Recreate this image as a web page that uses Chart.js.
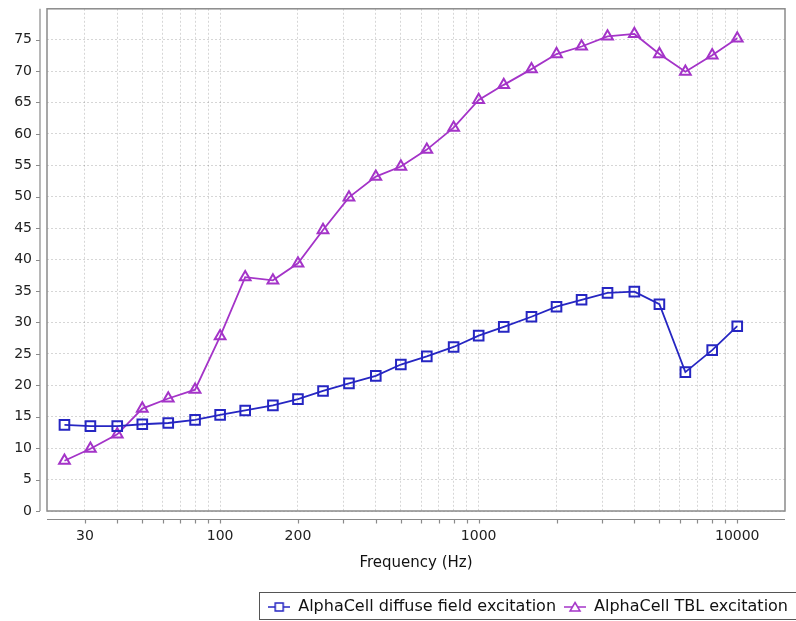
<!DOCTYPE html>
<html lang="en">
<head>
  <meta charset="UTF-8" />
  <title>AlphaCell excitation</title>
  <script src="https://cdn.jsdelivr.net/npm/chart.js"></script>
  <style>
    html, body { margin: 0; padding: 0; background: #fff; }
    #wrap { width: 796px; height: 621px; }
  </style>
</head>
<body>
  <div id="wrap"><canvas id="alphaChart" width="796" height="621"></canvas></div>

  <script>
    // 1/3 octave band centre frequencies (Hz)
    const frequencies = [25, 31.5, 40, 50, 63, 80, 100, 125, 160, 200, 250, 315, 400, 500,
      630, 800, 1000, 1250, 1600, 2000, 2500, 3150, 4000, 5000, 6300, 8000, 10000];

    const diffuseField = [13.7, 13.5, 13.5, 13.8, 14.0, 14.5, 15.3, 16.0, 16.8, 17.8, 19.1, 20.3, 21.5, 23.3,
      24.6, 26.1, 27.9, 29.3, 30.9, 32.5, 33.6, 34.7, 34.9, 32.9, 22.1, 25.6, 29.4];

    const tblExcitation = [8.0, 9.9, 12.2, 16.3, 17.9, 19.3, 27.8, 37.2, 36.7, 39.4, 44.7, 49.9, 53.2, 54.8,
      57.5, 61.0, 65.4, 67.8, 70.3, 72.7, 73.9, 75.5, 75.9, 72.7, 69.9, 72.5, 75.2];

    const seriesNames = ['AlphaCell diffuse field excitation', 'AlphaCell TBL excitation'];
    const seriesColors = ['#2626c2', '#a434c8'];

    // x ticks (log axis) and which of them get a label
    const xTickValues = [30, 40, 50, 60, 70, 80, 90, 100, 200, 300, 400, 500, 600, 700, 800, 900,
      1000, 2000, 3000, 4000, 5000, 6000, 7000, 8000, 9000, 10000];
    const xTickLabels = ['30', '100', '200', '1000', '10000'];

    const FONT = '"DejaVu Sans", sans-serif';
    const AXIS_GREY = '#8a8a8a';

    // small legend icon: line through the marker
    function legendIcon(color, shape) {
      const c = document.createElement('canvas');
      c.width = 22; c.height = 12;
      const g = c.getContext('2d');
      g.strokeStyle = color;
      g.lineWidth = 1.5;
      g.beginPath(); g.moveTo(0, 6); g.lineTo(22, 6); g.stroke();
      g.fillStyle = '#fff';
      g.beginPath();
      if (shape === 'rect') {
        g.rect(7, 2, 8, 8);
      } else {
        g.moveTo(11, 1.5); g.lineTo(16, 10); g.lineTo(6, 10); g.closePath();
      }
      g.fill();
      g.stroke();
      return c;
    }
    const legendIcons = [legendIcon(seriesColors[0], 'rect'), legendIcon(seriesColors[1], 'tri')];

    // frame, offset axis lines and tick marks, legend border
    const framePlugin = {
      id: 'frame',
      beforeDatasetsDraw(chart) {
        const { ctx, chartArea: a, scales } = chart;
        ctx.save();
        ctx.strokeStyle = AXIS_GREY;
        ctx.lineWidth = 1.5;
        ctx.strokeRect(a.left, a.top, a.right - a.left, a.bottom - a.top);

        // y axis line, a little left of the plot box
        const yx = a.left - 7;
        ctx.beginPath();
        ctx.moveTo(yx, a.top); ctx.lineTo(yx, a.bottom);
        scales.y.ticks.forEach(t => {
          const py = Math.round(scales.y.getPixelForValue(t.value)) + 0.5;
          ctx.moveTo(yx - 4, py); ctx.lineTo(yx, py);
        });
        // x axis line, a little below the plot box
        const xy = a.bottom + 8.5;
        ctx.moveTo(a.left, xy); ctx.lineTo(a.right, xy);
        scales.x.ticks.forEach(t => {
          const px = Math.round(scales.x.getPixelForValue(t.value)) + 0.5;
          ctx.moveTo(px, xy); ctx.lineTo(px, xy + 4);
        });
        ctx.lineWidth = 1.2;
        ctx.stroke();
        ctx.restore();
      },
      afterDraw(chart) {
        const lg = chart.legend;
        if (!lg || !lg.legendHitBoxes.length) return;
        const hb = lg.legendHitBoxes;
        const ctx = chart.ctx;
        ctx.save();
        ctx.strokeStyle = '#555';
        ctx.lineWidth = 1;
        const left = Math.round(hb[0].left) - 8.5;
        const top = Math.round(hb[0].top) - 6.5;
        ctx.strokeRect(left, top, chart.width + 10 - left, hb[0].height + 11);
        ctx.restore();
      }
    };

    function createChart() {
      const ctx = document.getElementById('alphaChart').getContext('2d');
      new Chart(ctx, {
        type: 'line',
        data: {
          datasets: [{
            label: seriesNames[0],
            data: frequencies.map((f, i) => ({ x: f, y: diffuseField[i] })),
            borderColor: seriesColors[0],
            backgroundColor: seriesColors[0],
            borderWidth: 1.8,
            pointStyle: 'rect',
            pointRadius: 6.8,
            pointBorderWidth: 2,
            pointBackgroundColor: 'rgba(0,0,0,0)',
            pointBorderColor: seriesColors[0],
            tension: 0
          }, {
            label: seriesNames[1],
            data: frequencies.map((f, i) => ({ x: f, y: tblExcitation[i] })),
            borderColor: seriesColors[1],
            backgroundColor: seriesColors[1],
            borderWidth: 1.8,
            pointStyle: 'triangle',
            pointRadius: 6.2,
            pointBorderWidth: 2,
            pointBackgroundColor: 'rgba(0,0,0,0)',
            pointBorderColor: seriesColors[1],
            tension: 0
          }]
        },
        options: {
          responsive: false,
          animation: false,
          layout: { padding: { top: 8, right: 0, left: 0, bottom: -4 } },
          plugins: {
            tooltip: { enabled: false },
            legend: {
              position: 'bottom',
              align: 'end',
              labels: {
                usePointStyle: true,
                pointStyleWidth: 22,
                padding: 8,
                color: '#111',
                font: { family: FONT, size: 16 },
                generateLabels(chart) {
                  const items = Chart.defaults.plugins.legend.labels.generateLabels(chart);
                  items.forEach(it => { it.pointStyle = legendIcons[it.datasetIndex]; });
                  return items;
                }
              }
            }
          },
          scales: {
            x: {
              type: 'logarithmic',
              min: 21.4,
              max: 15300,
              afterBuildTicks: axis => {
                axis.ticks = xTickValues.map(v => ({ value: v }));
              },
              afterFit: axis => { axis.height = 80; axis.paddingLeft = 0; axis.paddingRight = 0; },
              ticks: {
                autoSkip: false,
                maxRotation: 0,
                padding: 17,
                color: '#222',
                font: { family: FONT, size: 14 },
                callback: v => (xTickLabels.includes(String(v)) ? String(v) : '')
              },
              grid: {
                drawTicks: false,
                color: 'rgba(0,0,0,0.16)',
                lineWidth: 1
              },
              border: { display: false, dash: [2, 2] },
              title: {
                display: true,
                text: 'Frequency (Hz)',
                color: '#111',
                font: { family: FONT, size: 15 },
                padding: { top: 0, bottom: 19 }
              }
            },
            y: {
              min: 0,
              max: 79.9,
              afterBuildTicks: axis => {
                axis.ticks = axis.ticks.filter(t => t.value % 5 === 0);
              },
              afterFit: axis => { axis.width = 47; axis.paddingTop = 0; axis.paddingBottom = 0; },
              ticks: {
                stepSize: 5,
                padding: 15,
                color: '#222',
                font: { family: FONT, size: 14 }
              },
              grid: {
                drawTicks: false,
                color: 'rgba(0,0,0,0.16)',
                lineWidth: 1
              },
              border: { display: false, dash: [2, 2] }
            },
            pad: {
              // empty right-hand axis, only keeps the plot box off the right edge
              position: 'right',
              display: true,
              afterFit: axis => { axis.width = 11; axis.paddingTop = 0; axis.paddingBottom = 0; },
              ticks: { display: false },
              grid: { display: false },
              border: { display: false }
            }
          }
        },
        plugins: [framePlugin]
      });
    }

    createChart();
  </script>
</body>
</html>
